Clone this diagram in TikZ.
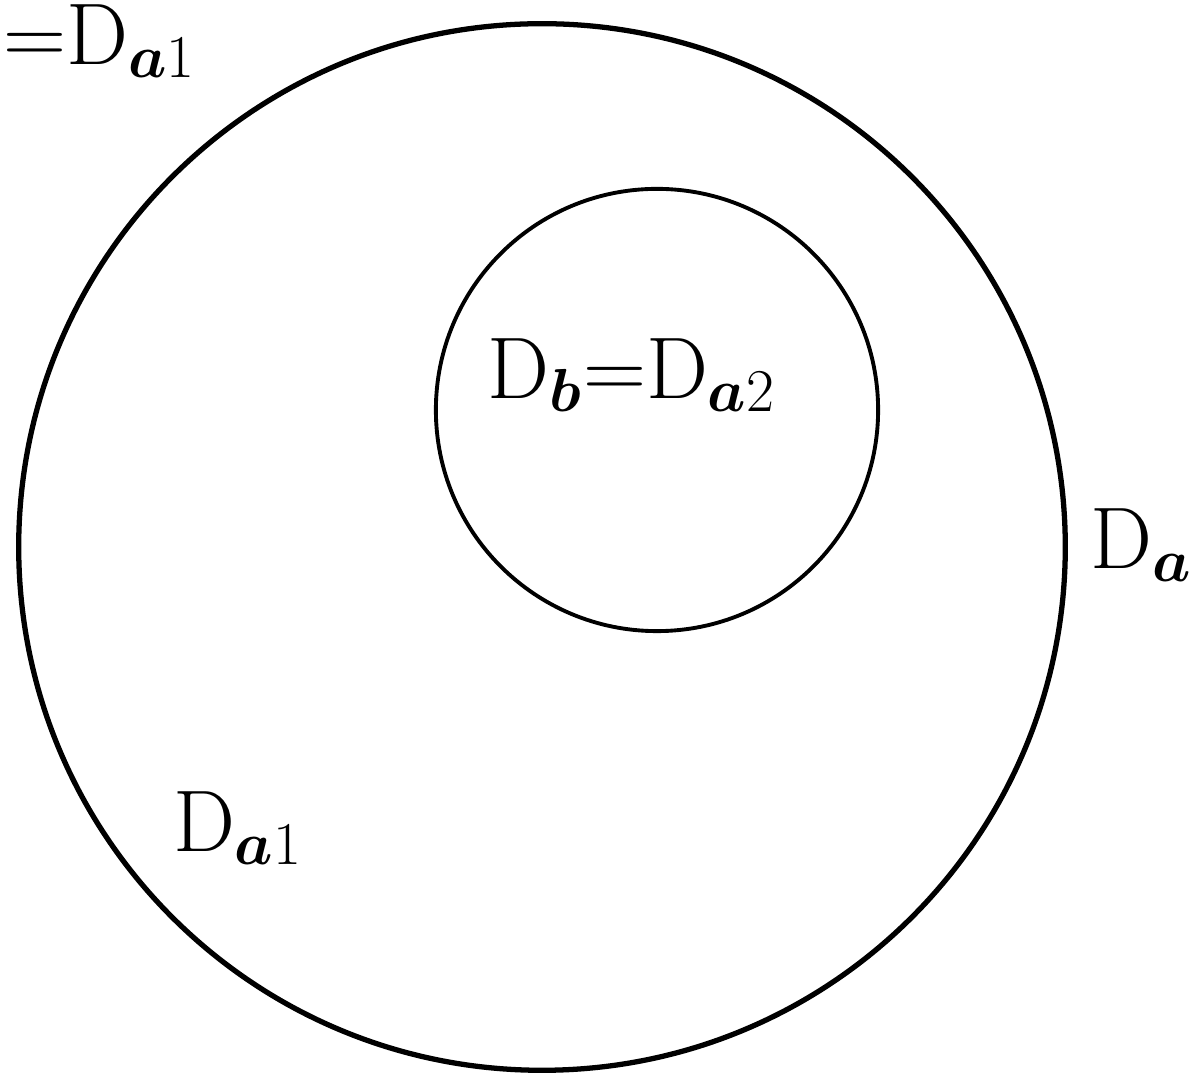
\documentclass[tikz,border=0pt]{standalone}
\usepackage{amsmath,amssymb}
\usepackage{xcolor}
\usepackage{tikz}
\usetikzlibrary{positioning}

\begin{document}
\begin{tikzpicture}[
    x=0.01cm, y=-0.01cm,
    every node/.style={font=\fontsize{23}{27}\selectfont},
    region/.style={
        draw,
        circle,
        inner sep=0pt
    },
    region label/.style={
        inner sep=1pt
    }
]
\useasboundingbox (0,0) rectangle (1196,1089);

% Regions (outer disc and inner disc)
\node[region, line width=1.5pt, minimum size=10.46cm] (outer) at (542,547) {};
\node[region, line width=1.1pt, minimum size=4.42cm] (inner) at (657,410) {};

% Labels
\node[region label] (lblinner) at (632,375) {$\mathrm{D}_{\boldsymbol{b}}{=}\mathrm{D}_{\boldsymbol{a}2}$};
\node[region label, anchor=west] (lblouter) at (1086,545) {$\mathrm{D}_{\boldsymbol{a}}$};
\node[region label] (lblring) at (238,828) {$\mathrm{D}_{\boldsymbol{a}1}$};
\node[region label, inner sep=0pt, anchor=north west] (lbltop) at (3,4) {${=}\mathrm{D}_{\boldsymbol{a}1}$};

\end{tikzpicture}
\end{document}
